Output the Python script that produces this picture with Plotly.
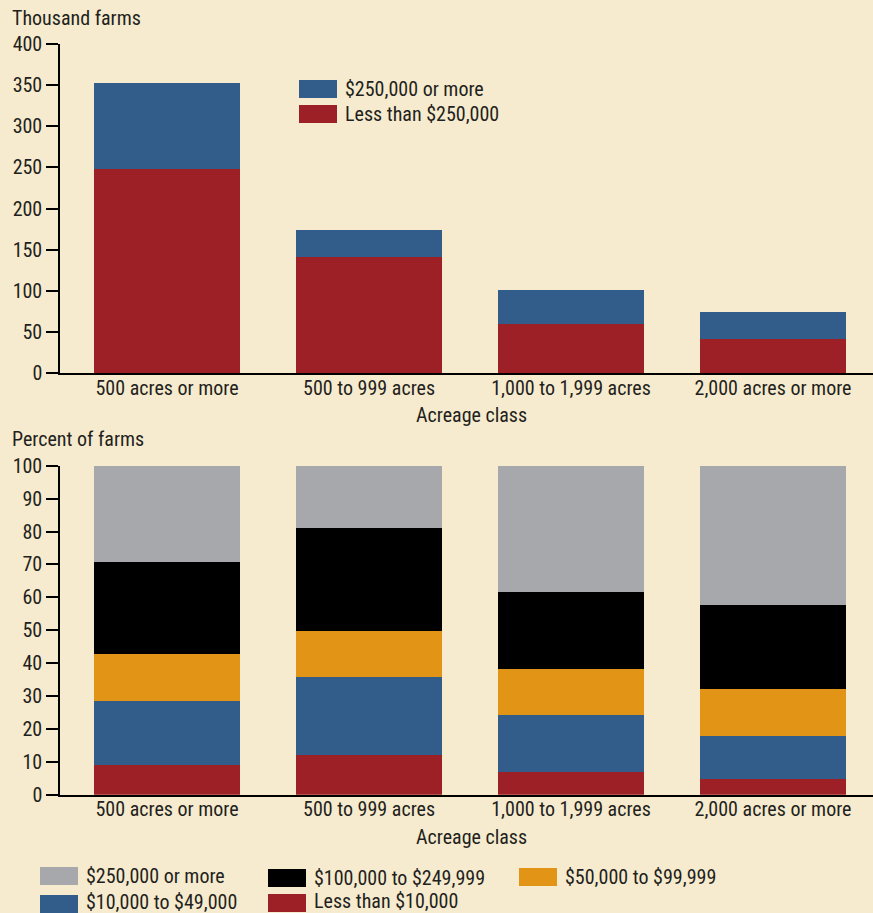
import plotly.graph_objects as go
from plotly.subplots import make_subplots

# Acreage classes shared by both panels
categories = ["500 acres or more", "500 to 999 acres", "1,000 to 1,999 acres", "2,000 acres or more"]

# Upper panel: thousand farms by gross cash farm income
top_names = ["Less than $250,000", "$250,000 or more"]
top_less_250k = [248, 141, 60, 41]
top_250k_plus = [104, 33, 41, 33]
top_colors = ["#9E2027", "#325D8A"]

# Lower panel: percent of farms by gross cash farm income
pct_names = ["Less than $10,000", "$10,000 to $49,000", "$50,000 to $99,999",
             "$100,000 to $249,999", "$250,000 or more"]
pct_lt_10k = [9.0, 12.1, 6.9, 4.7]
pct_10k_49k = [19.5, 23.7, 17.3, 13.1]
pct_50k_99k = [14.3, 14.0, 14.0, 14.3]
pct_100k_249k = [27.9, 31.3, 23.4, 25.6]
pct_250k_plus = [29.3, 18.9, 38.4, 42.3]
pct_colors = ["#9E2027", "#325D8A", "#E29417", "#000000", "#A7A8AB"]

top_ticks = [0, 50, 100, 150, 200, 250, 300, 350, 400]
pct_ticks = [0, 10, 20, 30, 40, 50, 60, 70, 80, 90, 100]

W, H = 873, 913
BG = "#F6EBCE"
INK = "#231F20"
FONT = "Liberation Sans Narrow, Arial Narrow, Roboto Condensed, Liberation Sans, sans-serif"
FS = 20


def px_x(x):
    return x / W


def px_y(y):
    return 1 - y / H


fig = make_subplots(rows=2, cols=1)

for name, vals, col in zip(top_names, [top_less_250k, top_250k_plus], top_colors):
    fig.add_trace(go.Bar(x=categories, y=vals, name=name, marker=dict(color=col, line=dict(width=0)),
                         showlegend=False), row=1, col=1)

pct_series = [pct_lt_10k, pct_10k_49k, pct_50k_99k, pct_100k_249k, pct_250k_plus]
for name, vals, col in zip(pct_names, pct_series, pct_colors):
    fig.add_trace(go.Bar(x=categories, y=vals, name=name, marker=dict(color=col, line=dict(width=0)),
                         showlegend=False), row=2, col=1)

xaxis_style = dict(
    type="category", range=[-0.53, 3.495], showline=True, linecolor="#000000", linewidth=1.5,
    ticks="", showgrid=False, zeroline=False, tickfont=dict(family=FONT, size=FS, color=INK),
    ticklabelstandoff=-4, automargin=False, domain=[px_x(60), 1.0],
)
yaxis_style = dict(
    showline=True, linecolor="#000000", linewidth=1.5, ticks="outside", ticklen=12,
    tickcolor="#000000", tickwidth=1.5, showgrid=False, zeroline=False,
    tickfont=dict(family=FONT, size=FS, color=INK), automargin=False,
)

fig.update_layout(
    width=W, height=H, margin=dict(l=0, r=0, t=0, b=0),
    paper_bgcolor=BG, plot_bgcolor=BG, barmode="stack", bargap=0.277,
    font=dict(family=FONT, size=FS, color=INK),
    xaxis=dict(**xaxis_style, anchor="y"),
    xaxis2=dict(**xaxis_style, anchor="y2"),
    yaxis=dict(**yaxis_style, range=[0, 400], tickvals=top_ticks,
               domain=[px_y(373), px_y(44)], anchor="x"),
    yaxis2=dict(**yaxis_style, range=[0, 100], tickvals=pct_ticks,
                domain=[px_y(794.7), px_y(465.7)], anchor="x2"),
)

annotations = [
    dict(text="Thousand farms", x=px_x(10), y=px_y(18)),
    dict(text="Percent of farms", x=px_x(10), y=px_y(439)),
]
for a in annotations:
    a.update(xref="paper", yref="paper", xanchor="left", yanchor="middle", showarrow=False,
             font=dict(family=FONT, size=FS, color=INK))

for yc in (415, 837):
    annotations.append(dict(text="Acreage class", x=px_x(471), y=px_y(yc), xref="paper", yref="paper",
                            xanchor="center", yanchor="middle", showarrow=False,
                            font=dict(family=FONT, size=FS, color=INK)))

shapes = []


def legend_item(x0, y0, color, label, text_dy=9):
    shapes.append(dict(type="rect", xref="paper", yref="paper", x0=px_x(x0), x1=px_x(x0 + 38),
                       y0=px_y(y0 + 18), y1=px_y(y0), fillcolor=color, line=dict(width=0)))
    annotations.append(dict(text=label, x=px_x(x0 + 44), y=px_y(y0 + text_dy), xref="paper", yref="paper",
                            xanchor="left", yanchor="middle", showarrow=False,
                            font=dict(family=FONT, size=FS, color=INK)))


# Upper legend
legend_item(299, 80, top_colors[1], top_names[1])
legend_item(299, 105, top_colors[0], top_names[0])

# Lower legend
legend_item(40, 867, pct_colors[4], pct_names[4])
legend_item(268, 869, pct_colors[3], pct_names[3])
legend_item(519, 868, pct_colors[2], pct_names[2])
legend_item(40, 895, pct_colors[1], pct_names[1], text_dy=7)
legend_item(268, 894, pct_colors[0], pct_names[0], text_dy=7)

fig.update_layout(annotations=annotations, shapes=shapes)

fig.write_html("out.html")
